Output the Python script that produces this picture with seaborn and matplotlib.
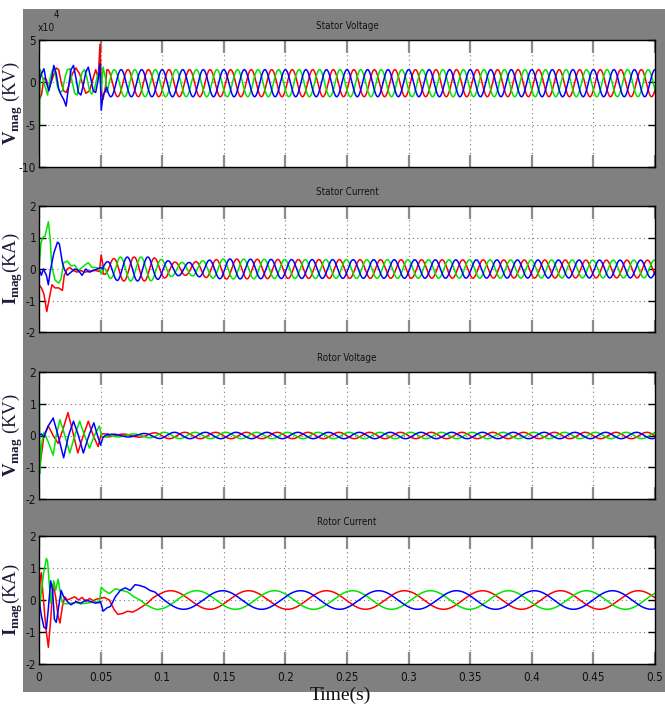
import numpy as np
import pandas as pd
import matplotlib
matplotlib.use("Agg")
import matplotlib.pyplot as plt
import seaborn as sns
from matplotlib.patches import Rectangle

# ---------------- data ----------------
panel_titles = ["Stator Voltage", "Stator Current", "Rotor Voltage", "Rotor Current"]
x_ticks = [0, 0.05, 0.1, 0.15, 0.2, 0.25, 0.3, 0.35, 0.4, 0.45, 0.5]
x_tick_labels = ["0", "0.05", "0.1", "0.15", "0.2", "0.25", "0.3", "0.35", "0.4", "0.45", "0.5"]
y_ticks_sv = [-10, -5, 0, 5]
y_ticks_other = [-2, -1, 0, 1, 2]

# Stator voltage (x10^4) transient points, phases a (red), b (green), c (blue)
sv_a_t = [0, 0.0003, 0.002, 0.004, 0.006, 0.008, 0.011, 0.014, 0.016, 0.018, 0.020, 0.022, 0.024, 0.027,
          0.030, 0.033, 0.036, 0.038, 0.041, 0.044, 0.046, 0.048, 0.0495, 0.051, 0.052, 0.054]
sv_a_v = [3.5, -2.0, -1.5, 0.5, 0.3, -0.8, 0.5, 1.7, 1.5, 0.0, -1.0, -1.2, -0.5, 1.0,
          1.7, 1.0, -0.5, -1.3, -1.0, 0.5, 1.5, 0.5, 4.5, -1.5, -2.0, -0.5]
sv_b_t = [0, 0.0003, 0.001, 0.003, 0.005, 0.007, 0.009, 0.011, 0.013, 0.015, 0.017, 0.019, 0.021, 0.023,
          0.025, 0.027, 0.029, 0.031, 0.033, 0.035, 0.037, 0.039, 0.041, 0.043, 0.045, 0.047, 0.049,
          0.0505, 0.052, 0.054]
sv_b_v = [2.0, -5.0, 1.5, 0.5, -0.5, -1.5, 0.5, 1.5, 1.2, -0.5, -1.2, -1.0, 0.5, 1.5,
          1.6, 0.0, -1.3, -1.5, 0.0, 1.2, 1.5, 0.5, -1.0, -1.4, -0.8, 0.5, 1.5,
          -1.0, 1.8, 0.5]
sv_c_t = [0, 0.002, 0.004, 0.006, 0.008, 0.010, 0.012, 0.014, 0.016, 0.018, 0.020, 0.022, 0.024, 0.026,
          0.028, 0.030, 0.032, 0.034, 0.036, 0.038, 0.040, 0.042, 0.044, 0.046, 0.048, 0.0495, 0.0505,
          0.052, 0.054]
sv_c_v = [0.0, 1.0, 1.6, 0.0, -1.0, 0.2, 2.0, 1.0, -0.8, -1.5, -2.0, -2.8, -0.5, 1.5,
          2.0, 0.5, -1.2, -1.5, -0.3, 1.2, 1.8, 0.5, -1.0, -1.2, 0.3, 2.2, -3.3,
          -1.5, -1.0]
sv_start = 0.055
sv_env_t = [0.055, 0.5]
sv_env_v = [1.6, 1.6]
sv_freq = 60.0
sv_offset = -0.1
sv_peak_c = 0.0

# Stator current (kA)
sc_a_t = [0, 0.002, 0.004, 0.0063, 0.008, 0.0105, 0.013, 0.016, 0.019, 0.0205, 0.023, 0.025, 0.028,
          0.031, 0.034, 0.037, 0.040, 0.043, 0.046, 0.049, 0.0505, 0.052]
sc_a_v = [-0.5, -0.6, -0.8, -1.35, -1.0, -0.5, -0.6, -0.6, -0.68, -0.2, 0.0, 0.05, -0.05,
          -0.1, -0.05, -0.1, -0.08, -0.05, -0.05, -0.08, 0.45, 0.1]
sc_b_t = [0, 0.0015, 0.003, 0.005, 0.0076, 0.009, 0.0103, 0.013, 0.016, 0.018, 0.020, 0.023, 0.026,
          0.029, 0.032, 0.035, 0.038, 0.040, 0.043, 0.046, 0.049, 0.0505, 0.052]
sc_b_v = [0.0, 0.8, 1.0, 1.05, 1.5, 1.0, 0.1, -0.35, -0.45, -0.3, 0.2, 0.25, 0.1,
          0.12, -0.05, 0.05, 0.15, 0.2, 0.05, 0.05, 0.0, -0.15, 0.0]
sc_c_t = [0, 0.002, 0.0035, 0.006, 0.0076, 0.009, 0.012, 0.015, 0.0165, 0.019, 0.0205, 0.023, 0.026,
          0.029, 0.032, 0.035, 0.038, 0.041, 0.044, 0.047, 0.050, 0.052]
sc_c_v = [0.0, -0.2, 0.0, -0.2, -0.5, -0.1, 0.5, 0.85, 0.8, 0.2, 0.0, -0.2, -0.1,
          0.0, -0.05, -0.2, 0.0, -0.1, -0.05, 0.0, 0.05, 0.0]
sc_start = 0.052
sc_env_t = [0.052, 0.058, 0.065, 0.090, 0.100, 0.110, 0.120, 0.135, 0.150, 0.200, 0.500]
sc_env_v = [0.15, 0.30, 0.38, 0.38, 0.30, 0.22, 0.20, 0.27, 0.32, 0.30, 0.28]
sc_freq = 60.0
sc_offset = 0.0
sc_peak_c = 0.055

# Rotor voltage (kV)
rv_a_t = [0, 0.0005, 0.002, 0.004, 0.0075, 0.0115, 0.0155, 0.0195, 0.0235, 0.0275, 0.0315, 0.0355,
          0.040, 0.044, 0.048, 0.0505, 0.053, 0.056]
rv_a_v = [0.0, -1.0, -0.6, 0.0, 0.3, 0.0, -0.25, 0.2, 0.72, 0.1, -0.55, -0.05,
          0.45, 0.0, -0.35, 0.05, 0.05, 0.04]
rv_b_t = [0, 0.0003, 0.0008, 0.002, 0.004, 0.0075, 0.0115, 0.014, 0.017, 0.021, 0.025, 0.029,
          0.033, 0.037, 0.041, 0.045, 0.049, 0.051, 0.053, 0.056]
rv_b_v = [0.0, 1.0, -1.2, -0.3, 0.1, -0.2, -0.62, 0.0, 0.5, 0.0, -0.55, 0.0,
          0.45, 0.0, -0.4, 0.0, 0.3, -0.05, -0.05, -0.05]
rv_c_t = [0, 0.002, 0.004, 0.0075, 0.0115, 0.0155, 0.020, 0.024, 0.028, 0.032, 0.036, 0.0405,
          0.0445, 0.0475, 0.050, 0.052, 0.054, 0.056]
rv_c_v = [0.0, 0.05, -0.05, 0.3, 0.55, 0.0, -0.7, 0.0, 0.45, 0.0, -0.55, 0.0,
          0.4, 0.0, -0.3, -0.05, 0.0, 0.05]
rv_start = 0.056
rv_env_t = [0.056, 0.080, 0.100, 0.500]
rv_env_v = [0.04, 0.05, 0.10, 0.10]
rv_freq = 40.0
rv_offset = 0.0
rv_peak_c = 0.06

# Rotor current (kA)
rc_a_t = [0, 0.001, 0.002, 0.003, 0.0045, 0.006, 0.0076, 0.0095, 0.0114, 0.0135, 0.0155, 0.017, 0.019,
          0.021, 0.023, 0.026, 0.029, 0.032, 0.035, 0.038, 0.041, 0.044, 0.047, 0.050, 0.053, 0.057,
          0.061, 0.064, 0.068, 0.072, 0.076, 0.080, 0.084, 0.088, 0.092, 0.096]
rc_a_v = [0.0, 0.7, 0.85, 0.3, -0.4, -1.0, -1.48, -0.6, 0.5, 0.1, -0.5, -0.72, -0.2,
          0.1, 0.0, 0.05, 0.1, 0.0, 0.08, -0.05, 0.05, -0.02, 0.03, 0.05, 0.08, 0.0,
          -0.3, -0.45, -0.42, -0.35, -0.38, -0.3, -0.2, -0.1, 0.05, 0.15]
rc_b_t = [0, 0.002, 0.004, 0.006, 0.007, 0.0085, 0.0095, 0.0105, 0.012, 0.0135, 0.0155, 0.0175, 0.019,
          0.022, 0.026, 0.030, 0.034, 0.038, 0.042, 0.046, 0.049, 0.0505, 0.053, 0.057, 0.062, 0.067,
          0.072, 0.077, 0.082, 0.087, 0.092, 0.096]
rc_b_v = [-0.5, 0.3, 0.9, 1.3, 1.2, 0.4, -0.1, 0.2, 0.6, 0.3, 0.65, 0.2, -0.1,
          -0.12, -0.1, -0.08, -0.12, -0.1, -0.08, -0.05, -0.1, 0.4, 0.3, 0.2, 0.35, 0.3,
          0.25, 0.1, 0.0, -0.15, -0.25, -0.3]
rc_c_t = [0, 0.002, 0.004, 0.006, 0.0075, 0.0095, 0.011, 0.0125, 0.014, 0.016, 0.018, 0.020, 0.023,
          0.026, 0.030, 0.034, 0.038, 0.042, 0.046, 0.050, 0.052, 0.055, 0.058, 0.062, 0.066, 0.070,
          0.074, 0.078, 0.082, 0.086, 0.090, 0.094]
rc_c_v = [0.0, -0.5, -0.85, -0.9, -0.3, 0.6, 0.3, -0.6, -0.7, -0.2, 0.3, 0.1, -0.05,
          -0.15, -0.05, -0.1, 0.0, -0.05, -0.1, -0.05, -0.35, -0.25, -0.2, 0.1, 0.3, 0.38,
          0.3, 0.48, 0.45, 0.4, 0.3, 0.25]
rc_start = 0.1
rc_env_t = [0.1, 0.5]
rc_env_v = [0.29, 0.29]
rc_freq = 15.8
rc_offset = 0.0
rc_peak_c = 0.149

phase_names = ["a", "b", "c"]
phase_colors = {"a": "#ff0000", "b": "#00e600", "c": "#0000ff"}


def build_panel(trans, start, env_t, env_v, freq, offset, peak_c):
    """Transient points + steady three-phase waveform (blue leads red leads green)."""
    rows = []
    period = 1.0 / freq
    t_ss = np.arange(start, 0.5 + 1e-9, 0.0001)
    env = np.interp(t_ss, env_t, env_v)
    lags = {"c": 0.0, "a": period / 3.0, "b": 2.0 * period / 3.0}
    for name, (tt, vv) in zip(phase_names, trans):
        steady = offset + env * np.cos(2 * np.pi * freq * (t_ss - peak_c - lags[name]))
        t_all = np.concatenate([np.asarray(tt), t_ss])
        v_all = np.concatenate([np.asarray(vv), steady])
        rows.append(pd.DataFrame({"t": t_all, "v": v_all, "phase": name}))
    return pd.concat(rows, ignore_index=True)


panels = [
    build_panel([(sv_a_t, sv_a_v), (sv_b_t, sv_b_v), (sv_c_t, sv_c_v)],
                sv_start, sv_env_t, sv_env_v, sv_freq, sv_offset, sv_peak_c),
    build_panel([(sc_a_t, sc_a_v), (sc_b_t, sc_b_v), (sc_c_t, sc_c_v)],
                sc_start, sc_env_t, sc_env_v, sc_freq, sc_offset, sc_peak_c),
    build_panel([(rv_a_t, rv_a_v), (rv_b_t, rv_b_v), (rv_c_t, rv_c_v)],
                rv_start, rv_env_t, rv_env_v, rv_freq, rv_offset, rv_peak_c),
    build_panel([(rc_a_t, rc_a_v), (rc_b_t, rc_b_v), (rc_c_t, rc_c_v)],
                rc_start, rc_env_t, rc_env_v, rc_freq, rc_offset, rc_peak_c),
]

# ---------------- styling ----------------
sns.set_theme(style="white")
plt.rcParams["font.family"] = ["Liberation Sans Narrow", "DejaVu Sans"]
plt.rcParams["font.stretch"] = "condensed"
plt.rcParams["mathtext.fontset"] = "custom"
plt.rcParams["mathtext.rm"] = "Liberation Serif"
plt.rcParams["mathtext.bf"] = "Liberation Serif:bold"

W, H = 665, 707
fig = plt.figure(figsize=(W / 100, H / 100), dpi=100)
fig.patch.set_facecolor("white")
fig.patches.append(Rectangle((23 / W, 1 - 692 / H), (665 - 23) / W, (692 - 9) / H,
                             transform=fig.transFigure, facecolor="#808080",
                             edgecolor="none", zorder=-5))

ax_px = [(40, 167), (206, 332), (372, 499), (536, 664)]
left_px, right_px = 39, 655
ylabels = [r"$\mathbf{V}_{\mathbf{mag}}$ (KV)", r"$\mathbf{I}_{\mathbf{mag}}$(KA)",
           r"$\mathbf{V}_{\mathbf{mag}}$ (KV)", r"$\mathbf{I}_{\mathbf{mag}}$(KA)"]

axes = []
for i, (top, bot) in enumerate(ax_px):
    ax = fig.add_axes([left_px / W, 1 - bot / H, (right_px - left_px) / W, (bot - top) / H])
    ax.set_facecolor("white")
    df = panels[i]
    sns.lineplot(data=df, x="t", y="v", hue="phase", hue_order=phase_names,
                 palette=phase_colors, estimator=None, sort=False, linewidth=1.1,
                 legend=False, ax=ax)
    ax.set_xlim(0, 0.5)
    if i == 0:
        ax.set_ylim(-10, 5)
        ax.set_yticks(y_ticks_sv)
        ax.set_yticklabels([str(v) for v in y_ticks_sv])
    else:
        ax.set_ylim(-2, 2)
        ax.set_yticks(y_ticks_other)
        ax.set_yticklabels([str(v) for v in y_ticks_other])
    ax.set_xticks(x_ticks)
    if i == 3:
        ax.set_xticklabels(x_tick_labels)
    else:
        ax.set_xticklabels([])
    ax.grid(True, color="#7a7a7a", linestyle=(0, (1, 3)), linewidth=0.8)
    for s in ax.spines.values():
        s.set_color("black")
        s.set_linewidth(1.0)
        s.set_visible(True)
    ax.tick_params(axis="x", direction="in", length=9, width=1.6, color="#8c8c8c",
                   top=True, bottom=True, labelsize=8.5, labelcolor="#111111", pad=5)
    ax.tick_params(axis="y", direction="in", length=5, width=1.0, color="black",
                   left=True, right=True, labelsize=8.5, labelcolor="#111111", pad=2)
    ax.set_title(panel_titles[i], fontsize=7, color="#111111", pad=8)
    ax.set_ylabel(ylabels[i], fontsize=13.5, color="#1c1c3a", family="Liberation Serif",
                  stretch="normal")
    ax.yaxis.set_label_coords(-0.022, 0.5)
    ax.set_xlabel("")
    axes.append(ax)

axes[3].set_xlabel("Time(s)", fontsize=14, family="Liberation Serif", stretch="normal",
                   color="#111111")
axes[3].xaxis.set_label_coords(0.49, -0.18)

fig.text(38 / W, 1 - 28 / H, "x10", fontsize=7.5, color="#111111", va="center", ha="left")
fig.text(54 / W, 1 - 15 / H, "4", fontsize=7, color="#111111", va="center", ha="left")

fig.savefig("out.png", dpi=100, facecolor="white")
